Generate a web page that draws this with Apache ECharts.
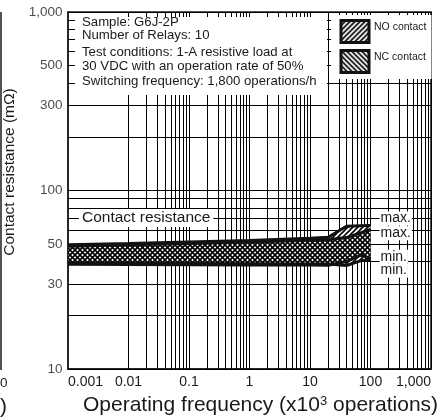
<!DOCTYPE html>
<html><head><meta charset="utf-8">
<script src="https://cdn.jsdelivr.net/npm/echarts@6/dist/echarts.min.js"></script>
<style>html,body{margin:0;padding:0;background:#fff;}#chart{width:442px;height:419px;}</style>
</head><body><div id="chart"></div>
<script>
// ---- data ----
const xPoints = [0.001, 0.01, 0.1, 1, 10, 20, 40, 70, 100];
const noMax   = [49.6, 50.5, 51.5, 52.5, 54.0, 54.7, 63.0, 63.4, 63.6];
const ncMax   = [48.7, 49.6, 50.5, 51.5, 52.6, 53.0, 54.5, 58.0, 60.6];
const noMin   = [39.2, 39.1, 39.0, 38.9, 38.8, 38.7, 38.0, 40.5, 41.0];
const ncMin   = [38.6, 38.5, 38.4, 38.3, 38.2, 38.1, 40.0, 43.6, 41.5];
const xTickValues = [0.001, 0.01, 0.1, 1, 10, 100, 1000];
const xTickLabels = ['0.001', '0.01', '0.1', '1', '10', '100', '1,000'];
const yTickValues = [10, 30, 50, 100, 300, 500, 1000];
const yTickLabels = ['10', '30', '50', '100', '300', '500', '1,000'];
const gridDecadesX = [0.001, 0.01, 0.1, 1, 10, 100];
const gridDecadesY = [10, 100];
const gridSteps = [1, 2, 3, 4, 5, 6, 7, 8, 9];
const infoLines = ['Sample: G6J-2P', 'Number of Relays: 10', 'Test conditions: 1-A resistive load at',
                   '30 VDC with an operation rate of 50%', 'Switching frequency: 1,800 operations/h'];
const infoLineY = [22, 35, 52, 66, 81];

const FONT = '"Liberation Sans", Arial, Helvetica, sans-serif';
const INK = '#1a1a1a';

function hatchCanvas(dir) {
  const s = 5, c = document.createElement('canvas');
  c.width = s; c.height = s;
  const g = c.getContext('2d');
  g.strokeStyle = '#000'; g.lineWidth = 1.6; g.beginPath();
  if (dir === '/') {
    g.moveTo(0, s); g.lineTo(s, 0); g.moveTo(-1, 1); g.lineTo(1, -1); g.moveTo(s - 1, s + 1); g.lineTo(s + 1, s - 1);
  } else {
    g.moveTo(0, 0); g.lineTo(s, s); g.moveTo(-1, s - 1); g.lineTo(1, s + 1); g.moveTo(s - 1, -1); g.lineTo(s + 1, 1);
  }
  g.stroke();
  return c;
}
const cNO = hatchCanvas('/');
const cNC = hatchCanvas('\\');
const patNO = { type: 'pattern', image: cNO, repeat: 'repeat' };
const patNC = { type: 'pattern', image: cNC, repeat: 'repeat' };

const pts = arr => xPoints.map((x, i) => [x, arr[i]]);
const unionMin = xPoints.map((x, i) => Math.min(noMin[i], ncMin[i]));
const unionMax = xPoints.map((x, i) => Math.max(noMax[i], ncMax[i]));

function band(name, lo, hi, fill, z) {
  return {
    name, type: 'custom', coordinateSystem: 'cartesian2d', z, silent: true,
    data: xPoints.map((x, i) => [x, lo[i], hi[i]]),
    encode: { x: 0, y: [1, 2] },
    renderItem: (params, api) => {
      if (params.dataIndex !== 0) return null;
      const top = xPoints.map((x, i) => api.coord([x, hi[i]]));
      const bot = xPoints.map((x, i) => api.coord([x, lo[i]])).reverse();
      return { type: 'polygon', shape: { points: top.concat(bot) }, style: { fill, stroke: null } };
    }
  };
}

const vLines = [];
gridDecadesX.forEach(d => gridSteps.forEach(m => vLines.push({ xAxis: +(d * m).toPrecision(3) })));
vLines.push({ xAxis: 1000 });
const hLines = [];
gridDecadesY.forEach(d => gridSteps.forEach(m => hLines.push({ yAxis: d * m })));
hLines.push({ yAxis: 1000 });

const endLbl = (txt, dy) => ({
  show: true, formatter: txt, distance: 9, offset: [0, dy], fontSize: 14, fontFamily: FONT, color: INK,
  backgroundColor: '#fff', padding: [0, 1]
});
const edge = (name, arr, lbl, dy) => ({
  name, type: 'line', data: pts(arr), symbol: 'none', silent: true, z: 4,
  lineStyle: { color: '#111', width: 3 }, endLabel: endLbl(lbl, dy)
});

const chart = echarts.init(document.getElementById('chart'), null, { renderer: 'canvas' });
chart.setOption({
  animation: false,
  backgroundColor: '#fff',
  grid: { left: 68, top: 12, width: 363, height: 357, show: true, borderColor: INK, borderWidth: 1.5,
          backgroundColor: 'transparent', containLabel: false, outerBoundsMode: 'none' },
  xAxis: {
    type: 'log', logBase: 10, min: 0.001, max: 1000,
    axisLine: { show: true, lineStyle: { color: INK, width: 1.5 } },
    axisTick: { show: false }, splitLine: { show: false }, minorTick: { show: false },
    axisLabel: {
      show: true, margin: 6, fontSize: 14, color: INK, fontFamily: FONT,
      alignMinLabel: 'left', alignMaxLabel: 'right',
      formatter: v => {
        const i = xTickValues.findIndex(t => Math.abs(Math.log10(t) - Math.log10(v)) < 1e-6);
        return i >= 0 ? xTickLabels[i] : '';
      }
    }
  },
  yAxis: {
    type: 'log', logBase: 10, min: 10, max: 1000,
    axisLine: { show: true, lineStyle: { color: INK, width: 1.5 } },
    axisTick: { show: false }, splitLine: { show: false }, minorTick: { show: false },
    axisLabel: { show: false }
  },
  legend: {
    data: [
      { name: 'NO contact', icon: 'rect', itemStyle: { color: { image: cNO, repeat: 'repeat' }, borderColor: '#111', borderWidth: 3 } },
      { name: 'NC contact', icon: 'rect', itemStyle: { color: { image: cNC, repeat: 'repeat' }, borderColor: '#111', borderWidth: 3 } }
    ],
    orient: 'vertical', left: 331, top: 15, padding: [4, 5, 5, 8.5],
    itemWidth: 28, itemHeight: 22, itemGap: 5, selectedMode: false,
    backgroundColor: '#fff',
    formatter: name => name + '\n ',
    textStyle: { fontSize: 10.5, lineHeight: 9, color: INK, fontFamily: FONT }
  },
  series: [
    { name: 'grid', type: 'line', data: [[0.001, 10]], symbol: 'none', lineStyle: { opacity: 0 }, silent: true, z: 1,
      markLine: { silent: true, symbol: ['none', 'none'], label: { show: false }, z: 1, animation: false,
                  lineStyle: { color: '#000', width: 1, type: 'solid' }, emphasis: { disabled: true },
                  data: vLines.concat(hLines) } },
    band('bandBase', unionMin, unionMax, '#fff', 2),
    band('NC contact', ncMin, ncMax, patNC, 3),
    band('NO contact', noMin, noMax, patNO, 3),
    edge('NC min', ncMin, 'min.', -2),
    edge('NC max', ncMax, 'max.', 4),
    edge('NO min', noMin, 'min.', 11),
    edge('NO max', noMax, 'max.', -7),
    { name: 'yTicks', type: 'scatter', data: yTickValues.map(v => [xTickValues[0], v]), symbolSize: 1,
      itemStyle: { color: 'rgba(0,0,0,0)' }, silent: true, clip: false, z: 5,
      label: { show: true, position: 'left', distance: 5, fontSize: 13.5, color: INK, fontFamily: FONT,
               formatter: p => yTickLabels[p.dataIndex] } }
  ],
  graphic: [
    { type: 'line', z: 10, shape: { x1: 1, y1: 12, x2: 1, y2: 370 }, style: { stroke: INK, lineWidth: 1.5 } },
    { type: 'text', z: 10, x: 0, y: 383, style: { text: '0', font: '13.5px ' + FONT, fill: INK, verticalAlign: 'middle' } },
    { type: 'text', z: 10, x: 0, y: 407, style: { text: ')', font: '21px ' + FONT, fill: INK, verticalAlign: 'middle' } },
    { type: 'text', z: 10, x: 10, y: 172, rotation: Math.PI / 2,
      style: { text: 'Contact resistance (mΩ)', font: '15.5px ' + FONT, fill: INK, align: 'center', verticalAlign: 'middle' } },
    { type: 'text', z: 10, x: 83, y: 405,
      style: { text: 'Operating frequency (x10{sup|3} operations)', font: '21px ' + FONT, fill: INK, verticalAlign: 'middle',
               rich: { sup: { fontSize: 13, fontFamily: FONT, verticalAlign: 'top', lineHeight: 12, padding: [0, 0, 10, 0] } } } },
    { type: 'rect', z: 9, shape: { x: 75, y: 17, width: 252, height: 78 }, style: { fill: '#fff' } }
  ].concat(infoLines.map((t, i) => ({
    type: 'text', z: 10, x: 82, y: infoLineY[i],
    style: { text: t, font: '13.2px ' + FONT, fill: INK, verticalAlign: 'middle' }
  }))).concat([
    { type: 'text', z: 10, x: 79, y: 218,
      style: { text: 'Contact resistance', font: '15.5px ' + FONT, fill: INK, verticalAlign: 'middle',
               backgroundColor: '#fff', padding: [1, 3] } }
  ])
});
</script></body></html>
